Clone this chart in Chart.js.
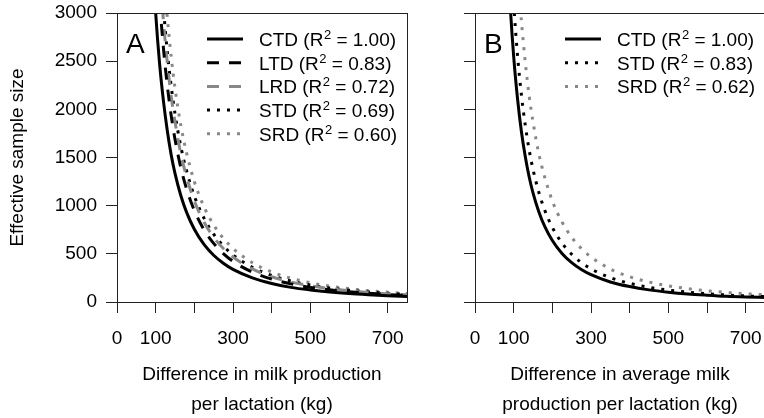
<!DOCTYPE html>
<html lang="en">
<head>
    <meta charset="UTF-8">
    <title>Effective sample size</title>
    <script src="https://cdn.jsdelivr.net/npm/chart.js"></script>
    <style>
        html, body { margin: 0; padding: 0; background: #fff; overflow: hidden; }
        #wrapA { position: absolute; left: 0; top: 0; width: 420px; height: 418px; }
        #wrapB { position: absolute; left: 420px; top: 0; width: 360px; height: 418px; }
    </style>
</head>
<body>
    <div id="wrapA"><canvas id="chartA"></canvas></div>
    <div id="wrapB"><canvas id="chartB"></canvas></div>

    <script>
        const FONT = '"Liberation Sans", Arial, sans-serif';

        // tick labels
        const xTickLabels = [0, 100, 300, 500, 700];
        const yTickLabels = [0, 500, 1000, 1500, 2000, 2500, 3000];

        // panel A: difference in milk production per lactation (kg)
        const xA = [90, 100, 110, 120, 130, 140, 150, 165, 180, 200, 225, 250, 275, 300, 350, 400, 450, 500, 550, 600, 650, 700, 750];
        const ctdA = [3700, 3000, 2480, 2090, 1780, 1530, 1335, 1105, 930, 755, 598, 485, 402, 338, 250, 192, 152, 125, 104, 88, 76, 66, 58];
        const ltdA = [null, 3800, 3140, 2640, 2250, 1940, 1690, 1395, 1173, 950, 750, 608, 502, 422, 310, 238, 188, 152, 126, 106, 90, 78, 68];
        const lrdA = [null, 4200, 3470, 2920, 2490, 2140, 1870, 1540, 1300, 1050, 830, 672, 555, 467, 343, 262, 207, 168, 139, 117, 99, 86, 75];
        const stdA = [null, null, 3640, 3060, 2600, 2245, 1955, 1615, 1360, 1100, 870, 704, 582, 489, 360, 275, 217, 176, 145, 122, 104, 90, 78];
        const srdA = [null, null, 4130, 3470, 2960, 2550, 2220, 1835, 1545, 1250, 988, 800, 661, 556, 408, 312, 247, 200, 165, 139, 118, 102, 89];

        // panel B: difference in average milk production per lactation (kg)
        const xB = [80, 90, 100, 110, 120, 130, 140, 150, 165, 180, 200, 225, 250, 275, 300, 350, 400, 450, 500, 550, 600, 650, 700, 750];
        const ctdB = [3980, 3150, 2550, 2110, 1770, 1510, 1300, 1133, 937, 787, 638, 504, 408, 337, 283, 208, 160, 126, 102, 84, 71, 60, 53, 48];
        const stdB = [null, 3830, 3100, 2560, 2150, 1835, 1580, 1378, 1140, 957, 775, 612, 496, 410, 344, 253, 194, 153, 124, 102, 86, 73, 63, 56];
        const srdB = [null, null, 4200, 3470, 2920, 2490, 2140, 1870, 1540, 1300, 1050, 830, 672, 555, 467, 343, 262, 207, 168, 139, 117, 99, 86, 75];

        const GRAY = '#888888';
        const styles = {
            CTD: { color: '#000', dash: [] },
            LTD: { color: '#000', dash: [12, 10] },
            LRD: { color: GRAY, dash: [12, 10] },
            STD: { color: '#000', dash: [3, 7] },
            SRD: { color: GRAY, dash: [3, 7] }
        };

        function makeSet(name, r2, xs, vals) {
            const st = styles[name];
            return {
                label: name,
                r2: r2,
                data: xs.map((x, i) => ({ x: x, y: vals[i] })).filter(p => p.y !== null),
                borderColor: st.color,
                borderDash: st.dash,
                borderWidth: 3,
                borderCapStyle: 'butt',
                pointRadius: 0,
                cubicInterpolationMode: 'monotone',
                fill: false
            };
        }

        // box, panel letter and legend inside the plot
        const panelDecor = {
            id: 'panelDecor',
            afterDraw(chart, args, opts) {
                const { ctx, chartArea } = chart;
                ctx.save();
                ctx.strokeStyle = '#222';
                ctx.lineWidth = 1;
                ctx.setLineDash([]);
                ctx.strokeRect(Math.round(chartArea.left) + 0.5, Math.round(chartArea.top) + 0.5,
                    Math.round(chartArea.width), Math.round(chartArea.height));

                ctx.fillStyle = '#000';
                ctx.textBaseline = 'alphabetic';
                ctx.font = '28px ' + FONT;
                ctx.fillText(opts.letter, chartArea.left + 9, chartArea.top + 40);

                chart.data.datasets.forEach((ds, i) => {
                    const y = chartArea.top + 26 + i * 23.7;
                    ctx.strokeStyle = ds.borderColor;
                    ctx.lineWidth = 3;
                    ctx.setLineDash(ds.borderDash);
                    ctx.beginPath();
                    ctx.moveTo(chartArea.right - 200, y);
                    ctx.lineTo(chartArea.right - 164, y);
                    ctx.stroke();

                    let x = chartArea.right - 148;
                    const base = y + 7;
                    ctx.font = '19px ' + FONT;
                    const a = ds.label + ' (R';
                    ctx.fillText(a, x, base);
                    x += ctx.measureText(a).width;
                    ctx.font = '13px ' + FONT;
                    ctx.fillText('2', x + 0.5, base - 7);
                    x += ctx.measureText('2').width + 0.5;
                    ctx.font = '19px ' + FONT;
                    ctx.fillText(' = ' + ds.r2 + ')', x, base);
                });
                ctx.restore();
            }
        };

        function makeChart(id, datasets, letter, xTitle, yWidth, showYLabels, padRight) {
            const ctx = document.getElementById(id).getContext('2d');
            return new Chart(ctx, {
                type: 'line',
                data: { datasets: datasets },
                plugins: [panelDecor],
                options: {
                    responsive: true,
                    maintainAspectRatio: false,
                    animation: false,
                    devicePixelRatio: 1,
                    layout: { padding: { top: 13, right: padRight, left: 0, bottom: 0 } },
                    plugins: {
                        legend: { display: false },
                        tooltip: { enabled: false },
                        panelDecor: { letter: letter }
                    },
                    scales: {
                        x: {
                            type: 'linear',
                            min: 0,
                            max: 750,
                            afterFit: s => { s.height = 116; s.paddingLeft = 0; s.paddingRight = 0; },
                            border: { color: '#222' },
                            grid: { drawOnChartArea: false, drawTicks: true, tickLength: 11, color: '#222' },
                            ticks: {
                                stepSize: 100,
                                includeBounds: false,
                                autoSkip: false,
                                maxRotation: 0,
                                padding: 14,
                                color: '#000',
                                font: { size: 19, family: FONT },
                                callback: v => xTickLabels.includes(v) ? String(v) : ''
                            },
                            title: {
                                display: true,
                                text: xTitle,
                                color: '#000',
                                font: { size: 19, family: FONT, lineHeight: '30px' },
                                padding: { top: 0, bottom: -2 }
                            }
                        },
                        y: {
                            min: 0,
                            max: 3000,
                            afterFit: s => { s.width = yWidth; s.paddingTop = 0; s.paddingBottom = 0; },
                            border: { color: '#222' },
                            grid: { drawOnChartArea: false, drawTicks: true, tickLength: 11, color: '#222' },
                            ticks: {
                                stepSize: 500,
                                padding: 9,
                                color: '#000',
                                font: { size: 19, family: FONT },
                                callback: v => (showYLabels && yTickLabels.includes(v)) ? String(v) : ''
                            },
                            title: {
                                display: showYLabels,
                                text: 'Effective sample size',
                                color: '#000',
                                font: { size: 19, family: FONT },
                                padding: { top: 6, bottom: 0 }
                            }
                        }
                    }
                }
            });
        }

        makeChart('chartA', [
            makeSet('CTD', '1.00', xA, ctdA),
            makeSet('LTD', '0.83', xA, ltdA),
            makeSet('LRD', '0.72', xA, lrdA),
            makeSet('STD', '0.69', xA, stdA),
            makeSet('SRD', '0.60', xA, srdA)
        ], 'A', ['Difference in milk production', 'per lactation (kg)'], 117, true, 13);

        makeChart('chartB', [
            makeSet('CTD', '1.00', xB, ctdB),
            makeSet('STD', '0.83', xB, stdB),
            makeSet('SRD', '0.62', xB, srdB)
        ], 'B', ['Difference in average milk', 'production per lactation (kg)'], 55, false, 15);
    </script>
</body>
</html>
